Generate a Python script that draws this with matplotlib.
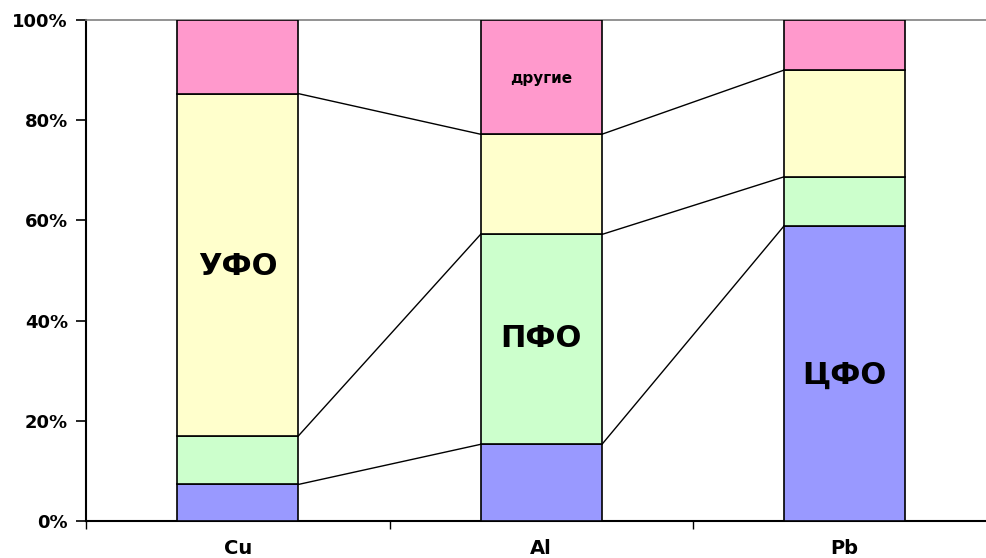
import numpy as np
import matplotlib
matplotlib.use("Agg")
import matplotlib.pyplot as plt
from matplotlib.ticker import FuncFormatter

# Доли по округам, %
metals = ["Cu", "Al", "Pb"]
cfo = [7.3, 15.3, 58.9]
pfo = [9.7, 41.9, 9.8]
ufo = [68.3, 20.0, 21.3]
other = [14.7, 22.8, 10.0]

series = [cfo, pfo, ufo, other]
colors = ["#9999FF", "#CCFFCC", "#FFFFCC", "#FF99CC"]

plt.rcParams["font.family"] = ["DejaVu Sans"]
plt.rcParams["font.weight"] = "bold"

fig = plt.figure(figsize=(9.86, 5.58), dpi=100)
ax = fig.add_axes([86 / 986, 37 / 558, 910.5 / 986, 501 / 558])

x = np.arange(len(metals))
w = 0.4
bottom = np.zeros(len(metals))
for vals, c in zip(series, colors):
    ax.bar(x, vals, w, bottom=bottom, color=c, edgecolor="black", linewidth=1.2, zorder=3)
    bottom = bottom + np.array(vals)

# линии между столбцами
cum = np.cumsum(np.array(series), axis=0)
for level in cum[:-1]:
    for i in range(len(metals) - 1):
        ax.plot([x[i] + w / 2, x[i + 1] - w / 2], [level[i], level[i + 1]],
                color="black", linewidth=1, zorder=2)

# подписи внутри столбцов
ax.text(0, 50.8, "УФО", ha="center", va="center", fontsize=22, fontweight="bold", zorder=4)
ax.text(1, 36.4, "ПФО", ha="center", va="center", fontsize=22, fontweight="bold", zorder=4)
ax.text(2, 29.0, "ЦФО", ha="center", va="center", fontsize=22, fontweight="bold", zorder=4)
ax.text(1, 88.4, "другие", ha="center", va="center", fontsize=11, fontweight="bold", zorder=4)

ax.set_xlim(-0.5, 2.5)
ax.set_ylim(0, 100)
ax.set_yticks(np.arange(0, 101, 20))
ax.yaxis.set_major_formatter(FuncFormatter(lambda v, p: f"{int(v)}%"))
ax.tick_params(axis="y", length=7, width=1.2, labelsize=13, pad=6, direction="out")

ax.set_xticks(x)
ax.set_xticklabels(metals, fontsize=14, fontweight="bold")
ax.set_xticks([-0.5, 0.5, 1.5, 2.5], minor=True)
ax.tick_params(axis="x", which="major", length=0, pad=13)
ax.tick_params(axis="x", which="minor", length=6, width=1)

ax.spines["left"].set_linewidth(1.5)
ax.spines["bottom"].set_linewidth(1.5)
ax.spines["top"].set_color("#808080")
ax.spines["top"].set_linewidth(1.2)
ax.spines["right"].set_visible(False)

fig.savefig("out.png", dpi=100)
